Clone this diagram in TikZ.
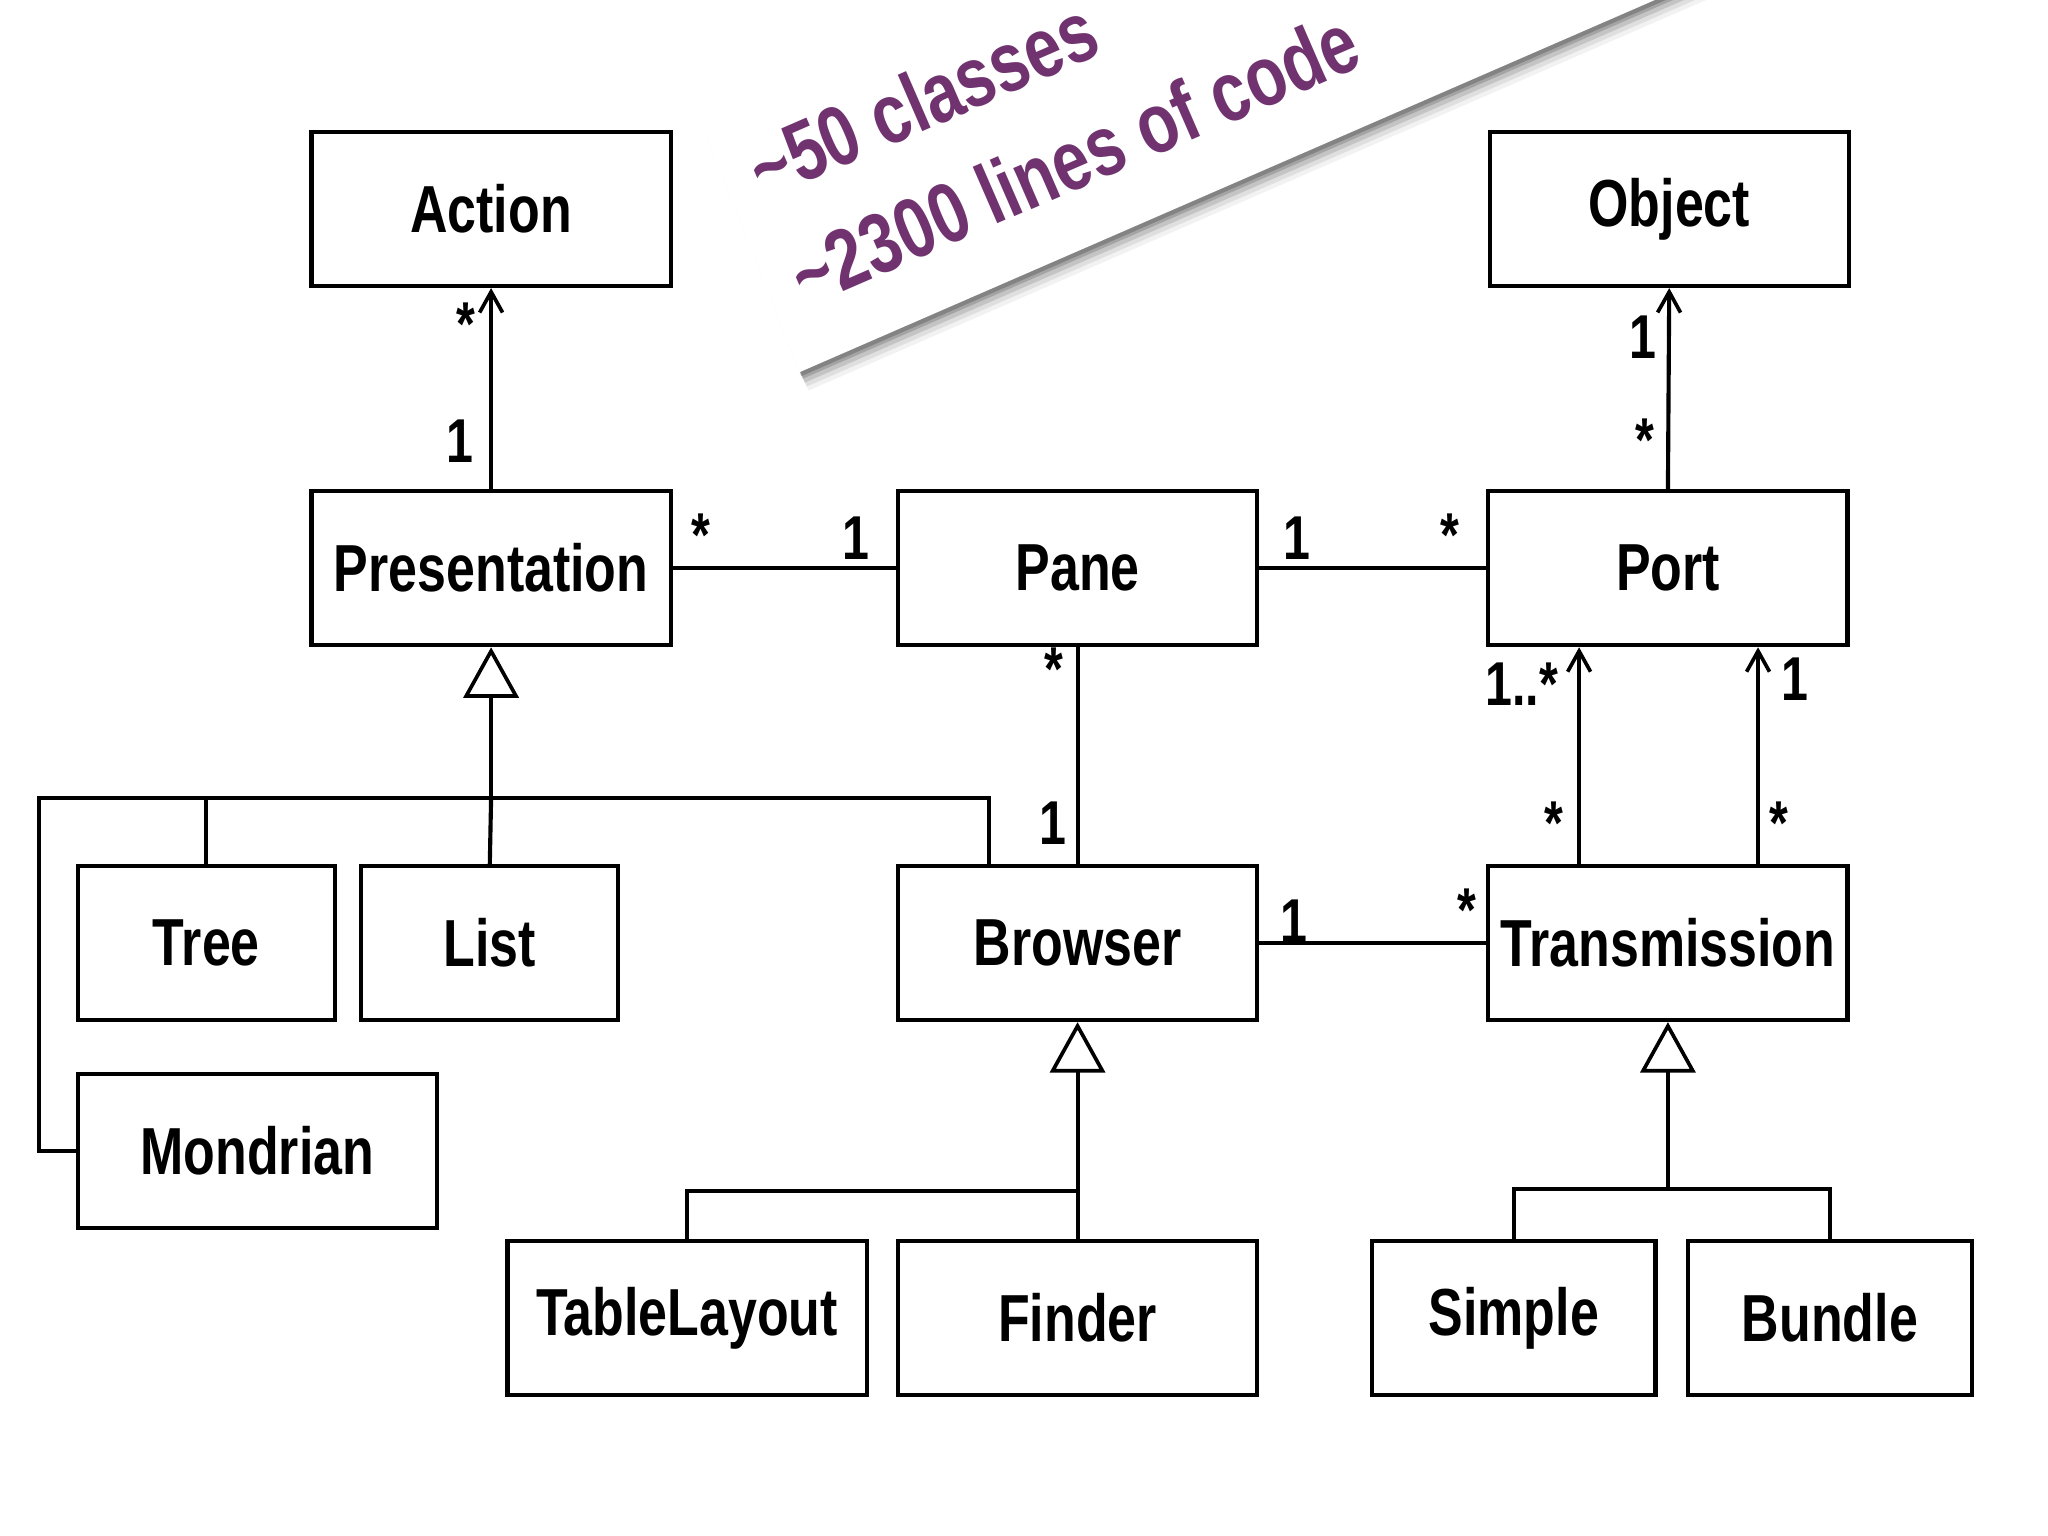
\documentclass[tikz,border=0pt]{standalone}
\usepackage{fontspec}
\setmainfont{Liberation Sans}[FakeStretch=0.78]
\usetikzlibrary{arrows.meta,shadows}
\begin{document}
\begin{tikzpicture}[x=0.02cm,y=-0.02cm,line width=1.8pt,
  cls/.style={draw,minimum width=5.5cm,minimum height=2.36cm,inner xsep=2pt,font=\fontsize{29}{32}\selectfont\bfseries},
  lbl/.style={font=\fontsize{27}{30}\selectfont\bfseries,inner sep=0pt},
  nav/.style={-{Straight Barb[length=9pt,width=10pt,line width=1.6pt]}},
  inh/.style={-{Triangle[open,length=22pt,width=24pt,line width=1.6pt]}}]
\useasboundingbox (0,0) rectangle (1568,1176);
\clip (0,0) rectangle (1568,1176);
\node[cls] (action) at (376,160) {Action};
\node[cls] (object) at (1278,160) {Object};
\node[cls] (pres) at (376,435) {Presentation};
\node[cls] (pane) at (825,435) {Pane};
\node[cls] (port) at (1277,435) {Port};
\node[cls,minimum width=3.94cm] (tree) at (158,722) {Tree};
\node[cls,minimum width=3.94cm] (list) at (375,722) {List};
\node[cls] (browser) at (825,722) {Browser};
\node[cls] (trans) at (1277,722) {Transmission};
\node[cls] (mond) at (197,881) {Mondrian};
\node[cls] (table) at (526,1009) {TableLayout};
\node[cls] (finder) at (825,1009) {Finder};
\node[cls,minimum width=4.34cm] (simple) at (1159,1009) {Simple};
\node[cls,minimum width=4.34cm] (bundle) at (1401,1009) {Bundle};
% associations
\draw[nav] (pres.north) -- (action.south);
\node[lbl] at (357,248) {*}; \node[lbl] at (352,338) {1};
\draw[nav] (port.north) -- (object.south);
\node[lbl] at (1258,258) {1}; \node[lbl] at (1259,337) {*};
\draw (pres.east) -- (pane.west);
\node[lbl] at (537,410) {*}; \node[lbl] at (655,412) {1};
\draw (pane.east) -- (port.west);
\node[lbl] at (993,412) {1}; \node[lbl] at (1110,410) {*};
\draw (pane.south) -- (browser.north);
\node[lbl] at (807,512) {*}; \node[lbl] at (806,630) {1};
\draw (browser.east) -- (trans.west);
\node[lbl] at (991,705) {1}; \node[lbl] at (1123,697) {*};
\draw[nav] (trans.north -| 1209,0) -- (port.south -| 1209,0);
\node[lbl] at (1165,524) {1..*}; \node[lbl] at (1190,630) {*};
\draw[nav] (trans.north -| 1346,0) -- (port.south -| 1346,0);
\node[lbl] at (1374,520) {1}; \node[lbl] at (1362,630) {*};
% inheritance
\coordinate (pj) at (376,611);
\draw[inh] (pj) -- (pres.south);
\draw (tree.north) -- (158,611) -- (757,611) -- (browser.north -| 757,0);
\draw (list.north) -- (pj);
\draw (158,611) -- (30,611) -- (30,881) -- (mond.west);
\coordinate (bj) at (825,912);
\draw[inh] (finder.north) -- (browser.south);
\draw (table.north) -- (526,912) -- (bj);
\coordinate (tj) at (1277,910);
\draw[inh] (tj) -- (trans.south);
\draw (simple.north) -- (1159,910) -- (1401,910) -- (bundle.north);
% banner
\foreach \o/\a in {14/0.05,11/0.08,8/0.12,5/0.16,3/0.2}
  \fill[black,opacity=\a] (612+\o*0.5,285+\o) -- ++(1834,-798) -- ++(-77,-195) -- (535+\o*0.5,90+\o) -- cycle;
\fill[white] (612,285) -- ++(1834,-798) -- ++(-77,-195) -- (535,90) -- cycle;
\node[anchor=base west,rotate=23.5,text=violet!60!black!80,font=\fontsize{37}{40}\selectfont\bfseries,inner sep=0pt] (t1) at (584,154) {\textasciitilde50 classes};
\node[anchor=base west,rotate=23.5,text=violet!60!black!80,font=\fontsize{37}{40}\selectfont\bfseries,inner sep=0pt] (t2) at (616,236) {\textasciitilde2300 lines of code};
\end{tikzpicture}
\end{document}
